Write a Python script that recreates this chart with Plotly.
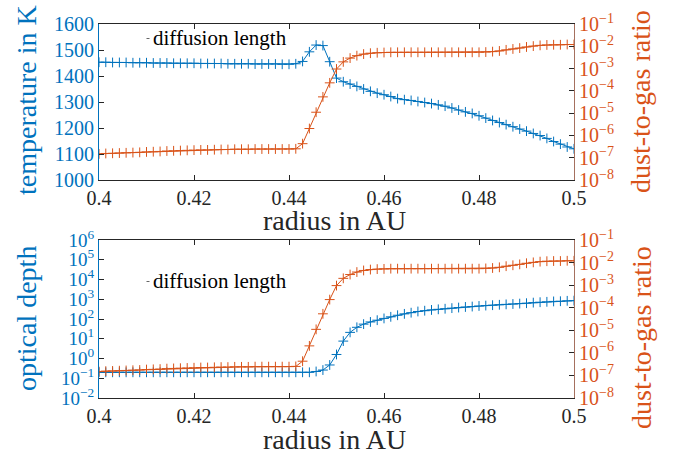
import plotly.graph_objects as go

# ---------------- data ----------------
radius = [0.4, 0.40143, 0.40286, 0.40429, 0.40571, 0.40714, 0.40857, 0.41, 0.41143, 0.41286,
          0.41429, 0.41571, 0.41714, 0.41857, 0.42, 0.42143, 0.42286, 0.42429, 0.42571, 0.42714,
          0.42857, 0.43, 0.43143, 0.43286, 0.43429, 0.43571, 0.43714, 0.43857, 0.44, 0.44143,
          0.44286, 0.44429, 0.44571, 0.44714, 0.44857, 0.45, 0.45143, 0.45286, 0.45429, 0.45571,
          0.45714, 0.45857, 0.46, 0.46143, 0.46286, 0.46429, 0.46571, 0.46714, 0.46857, 0.47,
          0.47143, 0.47286, 0.47429, 0.47571, 0.47714, 0.47857, 0.48, 0.48143, 0.48286, 0.48429,
          0.48571, 0.48714, 0.48857, 0.49, 0.49143, 0.49286, 0.49429, 0.49571, 0.49714, 0.49857,
          0.5]

temperature = [1453, 1453, 1452, 1452, 1452, 1451, 1451, 1451, 1450, 1450,
               1450, 1449, 1449, 1449, 1449, 1448, 1448, 1448, 1448, 1447,
               1447, 1447, 1447, 1446, 1446, 1446, 1446, 1445, 1445, 1447,
               1456, 1493, 1519, 1517, 1455, 1392, 1378, 1369, 1360, 1350,
               1341, 1334, 1328, 1321, 1313, 1309, 1306, 1302, 1298, 1294,
               1289, 1284, 1277, 1269, 1262, 1256, 1247, 1238, 1229, 1221,
               1213, 1205, 1196, 1188, 1179, 1171, 1160, 1148, 1138, 1127,
               1120]

dust_to_gas = [1.48e-7, 1.55e-7, 1.58e-7, 1.62e-7, 1.66e-7, 1.70e-7, 1.74e-7, 1.82e-7, 1.86e-7, 1.91e-7,
               2.00e-7, 2.04e-7, 2.09e-7, 2.14e-7, 2.19e-7, 2.24e-7, 2.24e-7, 2.29e-7, 2.34e-7, 2.34e-7,
               2.40e-7, 2.40e-7, 2.40e-7, 2.45e-7, 2.45e-7, 2.45e-7, 2.45e-7, 2.45e-7, 2.45e-7, 2.51e-7,
               4.27e-7, 2.04e-6, 1.10e-5, 5.37e-5, 2.29e-4, 9.55e-4, 2.00e-3, 2.95e-3, 3.80e-3, 4.47e-3,
               4.90e-3, 5.13e-3, 5.25e-3, 5.37e-3, 5.37e-3, 5.37e-3, 5.37e-3, 5.37e-3, 5.37e-3, 5.37e-3,
               5.37e-3, 5.37e-3, 5.37e-3, 5.37e-3, 5.37e-3, 5.37e-3, 5.37e-3, 5.50e-3, 5.75e-3, 6.17e-3,
               6.92e-3, 7.59e-3, 8.32e-3, 9.33e-3, 1.02e-2, 1.10e-2, 1.15e-2, 1.17e-2, 1.17e-2, 1.20e-2,
               1.20e-2]

optical_depth = [0.20, 0.20, 0.20, 0.20, 0.20, 0.20, 0.20, 0.20, 0.20, 0.20,
                 0.20, 0.20, 0.20, 0.20, 0.20, 0.20, 0.20, 0.20, 0.20, 0.20,
                 0.20, 0.20, 0.20, 0.20, 0.20, 0.20, 0.20, 0.20, 0.20, 0.20,
                 0.20, 0.20, 0.22, 0.26, 0.47, 1.6, 7.6, 21, 38, 55,
                 71, 87, 107, 129, 155, 182, 209, 240, 263, 288,
                 309, 331, 355, 380, 407, 427, 457, 479, 501, 525,
                 550, 575, 603, 631, 676, 708, 741, 776, 794, 832,
                 851]

x_tickvals = [0.4, 0.42, 0.44, 0.46, 0.48, 0.5]
x_ticktext = ["0.4", "0.42", "0.44", "0.46", "0.48", "0.5"]
temp_tickvals = [1000, 1100, 1200, 1300, 1400, 1500, 1600]
dtg_tickvals = [1e-8, 1e-7, 1e-6, 1e-5, 1e-4, 1e-3, 1e-2, 1e-1]
dtg_ticktext = ["10<sup>−8</sup>", "10<sup>−7</sup>", "10<sup>−6</sup>", "10<sup>−5</sup>",
                "10<sup>−4</sup>", "10<sup>−3</sup>", "10<sup>−2</sup>", "10<sup>−1</sup>"]
tau_tickvals = [1e-2, 1e-1, 1e0, 1e1, 1e2, 1e3, 1e4, 1e5, 1e6]
tau_ticktext = ["10<sup>−2</sup>", "10<sup>−1</sup>", "10<sup>0</sup>", "10<sup>1</sup>", "10<sup>2</sup>",
                "10<sup>3</sup>", "10<sup>4</sup>", "10<sup>5</sup>", "10<sup>6</sup>"]

# ---------------- style ----------------
BLUE = "#0072BD"
ORANGE = "#D95319"
DARK = "#262626"
FONT = "Liberation Serif"

W, H = 681, 457
L, R, T, B = 99, 107, 24, 59
PW, PH = W - L - R, H - T - B


def px(xp):
    return (xp - L) / PW


def py(yp):
    return (H - B - yp) / PH


fig = go.Figure()


def add(x, y, xa, ya, color):
    fig.add_trace(go.Scatter(
        x=x, y=y, xaxis=xa, yaxis=ya, mode="lines+markers", showlegend=False,
        line=dict(color=color, width=1),
        marker=dict(symbol="cross-thin", size=7, color=color, line=dict(color=color, width=1)),
    ))


add(radius, temperature, "x", "y", BLUE)
add(radius, dust_to_gas, "x", "y2", ORANGE)
add(radius, optical_depth, "x2", "y3", BLUE)
add(radius, dust_to_gas, "x2", "y4", ORANGE)

top_dom = [py(180), 1.0]
bot_dom = [0.0, py(240)]

xcommon = dict(range=[0.4, 0.5], tickmode="array", tickvals=x_tickvals, ticktext=x_ticktext,
               ticks="inside", ticklen=5, tickcolor=DARK, showline=True, linecolor=DARK,
               linewidth=1, mirror="ticks", showgrid=False, zeroline=False,
               tickfont=dict(family=FONT, size=20, color=DARK), domain=[0, 1])

fig.update_layout(
    width=W, height=H, margin=dict(l=L, r=R, t=T, b=B, autoexpand=False),
    paper_bgcolor="white", plot_bgcolor="white",
    font=dict(family=FONT),
    xaxis=dict(anchor="y", **xcommon),
    xaxis2=dict(anchor="y3", **xcommon),
    yaxis=dict(domain=top_dom, anchor="x", range=[1000, 1600], tickmode="array",
               tickvals=temp_tickvals, ticks="inside", ticklen=5, tickcolor=DARK,
               showline=True, linecolor=BLUE, linewidth=1, showgrid=False, zeroline=False,
               tickfont=dict(family=FONT, size=20, color=BLUE)),
    yaxis2=dict(overlaying="y", side="right", anchor="x", type="log", range=[-8, -1],
                tickmode="array", tickvals=dtg_tickvals, ticktext=dtg_ticktext,
                ticks="inside", ticklen=5, tickcolor=DARK, showline=True, linecolor="#A5705E",
                linewidth=1, showgrid=False, zeroline=False,
                tickfont=dict(family=FONT, size=20, color=ORANGE)),
    yaxis3=dict(domain=bot_dom, anchor="x2", type="log", range=[-2, 6], tickmode="array",
                tickvals=tau_tickvals, ticktext=tau_ticktext, ticks="inside", ticklen=5,
                tickcolor=DARK, showline=True, linecolor=BLUE, linewidth=1, showgrid=False,
                zeroline=False, tickfont=dict(family=FONT, size=19, color=BLUE)),
    yaxis4=dict(overlaying="y3", side="right", anchor="x2", type="log", range=[-8, -1],
                tickmode="array", tickvals=dtg_tickvals, ticktext=dtg_ticktext,
                ticks="inside", ticklen=5, tickcolor=DARK, showline=True, linecolor="#A5705E",
                linewidth=1, showgrid=False, zeroline=False,
                tickfont=dict(family=FONT, size=20, color=ORANGE)),
)

TF = 28
ann = [
    dict(text="temperature in K", x=px(26), y=py(100), textangle=-90, color=BLUE),
    dict(text="dust-to-gas ratio", x=px(641), y=py(102), textangle=-90, color=ORANGE),
    dict(text="radius in AU", x=px(334), y=py(220), textangle=0, color=DARK),
    dict(text="optical depth", x=px(26), y=py(319), textangle=-90, color=BLUE),
    dict(text="dust-to-gas ratio", x=px(641), y=py(338), textangle=-90, color=ORANGE),
    dict(text="radius in AU", x=px(334), y=py(439), textangle=0, color=DARK),
]
for a in ann:
    fig.add_annotation(text=a["text"], x=a["x"], y=a["y"], xref="paper", yref="paper",
                       textangle=a["textangle"], showarrow=False, xanchor="center", yanchor="middle",
                       font=dict(family=FONT, size=TF, color=a["color"]))

# legend boxes (text + tiny line sample)
for yc in (38, 281):
    fig.add_annotation(text="diffusion length", x=px(151), y=py(yc), xref="paper", yref="paper",
                       showarrow=False, xanchor="left", yanchor="middle",
                       font=dict(family=FONT, size=21, color="black"))
    fig.add_shape(type="line", xref="paper", yref="paper", x0=px(146.5), x1=px(149.5),
                  y0=py(yc + 0.5), y1=py(yc + 0.5), line=dict(color="#666666", width=1))

fig.write_html("out.html", config={"displayModeBar": False},
               post_script="document.body.style.margin='0px';document.body.style.overflow='hidden';")
